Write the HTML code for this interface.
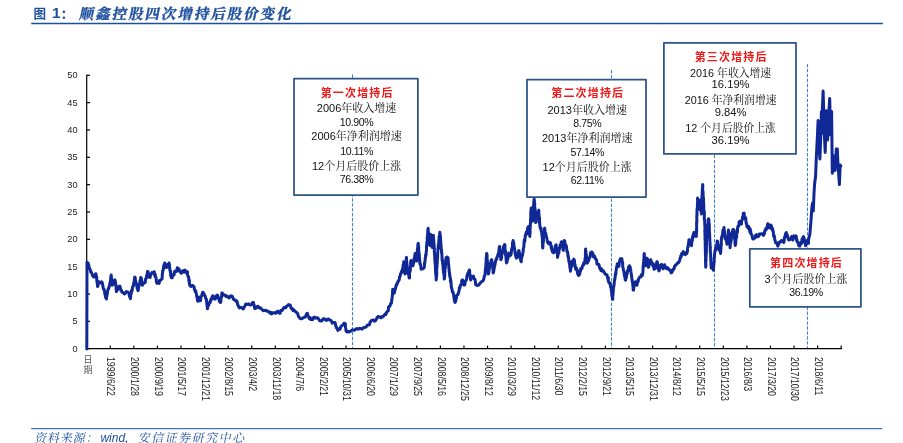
<!DOCTYPE html>
<html lang="zh"><head><meta charset="utf-8"><title>图 1</title>
<style>
html,body{margin:0;padding:0;background:#fff;}
body{width:903px;height:443px;position:relative;overflow:hidden;font-family:"Liberation Sans","Noto Sans CJK SC",sans-serif;}
.title{position:absolute;top:3.8px;height:20px;line-height:20px;white-space:nowrap;color:#1d4f9f;font-weight:bold;}
.t1{left:33.4px;font-size:12.6px;font-family:"Liberation Sans","Noto Sans CJK SC",sans-serif;}
.t2{left:52.1px;font-size:15.5px;font-family:"Liberation Sans",sans-serif;top:2.6px;}
.t3{left:60px;font-size:14.5px;font-family:"Liberation Sans","Noto Serif CJK SC",serif;}
.t4{left:79.0px;-webkit-text-stroke:0.35px #1d4f9f;font-size:14.5px;letter-spacing:1.95px;transform:skewX(-11deg);transform-origin:0 70%;font-family:"Liberation Sans","Noto Serif CJK SC",serif;}
.rule1{position:absolute;left:31px;top:22.8px;width:852px;height:1.2px;background:#1d4f9f;}
.rule2{position:absolute;left:31px;top:428px;width:851px;height:1.3px;background:#4a73b8;}
.src{position:absolute;left:35.3px;top:430.6px;height:14px;line-height:14px;white-space:nowrap;color:#1d4f9f;font-size:12px;font-family:"Liberation Sans","Noto Serif CJK SC",serif;}
.src span{display:inline-block;}
.src .s1{letter-spacing:0.9px;transform:skewX(-12deg);}
.src .s2{letter-spacing:1.5px;transform:skewX(-12deg);}
.src .w{letter-spacing:0;font-size:12px;font-style:italic;margin-left:0.6px;margin-right:0px;}
.ln{position:absolute;width:140px;height:14px;line-height:14px;text-align:center;white-space:nowrap;color:#111;font-size:11px;font-family:"Liberation Sans","Noto Serif CJK SC",serif;}
.ln.t{color:#f01818;font-weight:bold;font-size:11px;letter-spacing:1.15px;text-indent:1.15px;font-family:"Liberation Sans","Noto Sans CJK SC",sans-serif;}
.ln.n{font-size:10.6px;letter-spacing:-0.4px;}
.ln.b{font-size:10.8px;}
.ln.bn{font-size:11.2px;}
</style></head><body><div id="wrap" style="position:absolute;left:0;top:0;width:903px;height:443px;will-change:transform;">
<div class="title t1">图</div><div class="title t2">1</div><div class="title t3">：</div><div class="title t4">顺鑫控股四次增持后股价变化</div>
<svg width="903" height="443" viewBox="0 0 903 443" style="position:absolute;left:0;top:0">
<line x1="352.5" y1="74.5" x2="352.5" y2="348" stroke="#4681c9" stroke-width="1.1" stroke-dasharray="3.4 1.55" fill="none"/>
<line x1="611.5" y1="70" x2="611.5" y2="348" stroke="#4681c9" stroke-width="1.1" stroke-dasharray="3.4 1.55" fill="none"/>
<line x1="714.5" y1="150" x2="714.5" y2="348" stroke="#4681c9" stroke-width="1.1" stroke-dasharray="3.4 1.55" fill="none"/>
<line x1="807.5" y1="64" x2="807.5" y2="348" stroke="#4681c9" stroke-width="1.1" stroke-dasharray="3.4 1.55" fill="none"/>
<g stroke="#000" stroke-width="1.2" fill="none">
<line x1="86.7" y1="74.7" x2="86.7" y2="349.3"/>
<line x1="86.1" y1="348.7" x2="841.8" y2="348.7"/>
<line x1="86.7" y1="348.70" x2="90" y2="348.70"/>
<line x1="86.7" y1="321.36" x2="90" y2="321.36"/>
<line x1="86.7" y1="294.02" x2="90" y2="294.02"/>
<line x1="86.7" y1="266.68" x2="90" y2="266.68"/>
<line x1="86.7" y1="239.34" x2="90" y2="239.34"/>
<line x1="86.7" y1="212.00" x2="90" y2="212.00"/>
<line x1="86.7" y1="184.66" x2="90" y2="184.66"/>
<line x1="86.7" y1="157.32" x2="90" y2="157.32"/>
<line x1="86.7" y1="129.98" x2="90" y2="129.98"/>
<line x1="86.7" y1="102.64" x2="90" y2="102.64"/>
<line x1="86.7" y1="75.30" x2="90" y2="75.30"/>
<line x1="110.28" y1="348.7" x2="110.28" y2="345.6"/>
<line x1="133.86" y1="348.7" x2="133.86" y2="345.6"/>
<line x1="157.43" y1="348.7" x2="157.43" y2="345.6"/>
<line x1="181.01" y1="348.7" x2="181.01" y2="345.6"/>
<line x1="204.59" y1="348.7" x2="204.59" y2="345.6"/>
<line x1="228.17" y1="348.7" x2="228.17" y2="345.6"/>
<line x1="251.75" y1="348.7" x2="251.75" y2="345.6"/>
<line x1="275.32" y1="348.7" x2="275.32" y2="345.6"/>
<line x1="298.90" y1="348.7" x2="298.90" y2="345.6"/>
<line x1="322.48" y1="348.7" x2="322.48" y2="345.6"/>
<line x1="346.06" y1="348.7" x2="346.06" y2="345.6"/>
<line x1="369.64" y1="348.7" x2="369.64" y2="345.6"/>
<line x1="393.21" y1="348.7" x2="393.21" y2="345.6"/>
<line x1="416.79" y1="348.7" x2="416.79" y2="345.6"/>
<line x1="440.37" y1="348.7" x2="440.37" y2="345.6"/>
<line x1="463.95" y1="348.7" x2="463.95" y2="345.6"/>
<line x1="487.53" y1="348.7" x2="487.53" y2="345.6"/>
<line x1="511.10" y1="348.7" x2="511.10" y2="345.6"/>
<line x1="534.68" y1="348.7" x2="534.68" y2="345.6"/>
<line x1="558.26" y1="348.7" x2="558.26" y2="345.6"/>
<line x1="581.84" y1="348.7" x2="581.84" y2="345.6"/>
<line x1="605.42" y1="348.7" x2="605.42" y2="345.6"/>
<line x1="628.99" y1="348.7" x2="628.99" y2="345.6"/>
<line x1="652.57" y1="348.7" x2="652.57" y2="345.6"/>
<line x1="676.15" y1="348.7" x2="676.15" y2="345.6"/>
<line x1="699.73" y1="348.7" x2="699.73" y2="345.6"/>
<line x1="723.31" y1="348.7" x2="723.31" y2="345.6"/>
<line x1="746.88" y1="348.7" x2="746.88" y2="345.6"/>
<line x1="770.46" y1="348.7" x2="770.46" y2="345.6"/>
<line x1="794.04" y1="348.7" x2="794.04" y2="345.6"/>
<line x1="817.62" y1="348.7" x2="817.62" y2="345.6"/>
<line x1="841.20" y1="348.7" x2="841.20" y2="345.6"/>
</g>
<g font-family="'Liberation Sans', sans-serif" font-size="9.2px" fill="#1c1c1c" text-anchor="end">
<text x="77.6" y="351.60">0</text>
<text x="77.6" y="324.26">5</text>
<text x="77.6" y="296.92">10</text>
<text x="77.6" y="269.58">15</text>
<text x="77.6" y="242.24">20</text>
<text x="77.6" y="214.90">25</text>
<text x="77.6" y="187.56">30</text>
<text x="77.6" y="160.22">35</text>
<text x="77.6" y="132.88">40</text>
<text x="77.6" y="105.54">45</text>
<text x="77.6" y="78.20">50</text>
</g>
<g font-family="'Liberation Sans', sans-serif" font-size="10px" fill="#222">
<text transform="translate(107.48,356.9) rotate(90) scale(0.88,1)">1999/6/22</text>
<text transform="translate(131.06,356.9) rotate(90) scale(0.88,1)">2000/1/28</text>
<text transform="translate(154.63,356.9) rotate(90) scale(0.88,1)">2000/9/19</text>
<text transform="translate(178.21,356.9) rotate(90) scale(0.88,1)">2001/5/17</text>
<text transform="translate(201.79,356.9) rotate(90) scale(0.88,1)">2001/12/21</text>
<text transform="translate(225.37,356.9) rotate(90) scale(0.88,1)">2002/8/15</text>
<text transform="translate(248.95,356.9) rotate(90) scale(0.88,1)">2003/4/2</text>
<text transform="translate(272.52,356.9) rotate(90) scale(0.88,1)">2003/11/18</text>
<text transform="translate(296.10,356.9) rotate(90) scale(0.88,1)">2004/7/6</text>
<text transform="translate(319.68,356.9) rotate(90) scale(0.88,1)">2005/2/21</text>
<text transform="translate(343.26,356.9) rotate(90) scale(0.88,1)">2005/10/31</text>
<text transform="translate(366.84,356.9) rotate(90) scale(0.88,1)">2006/6/20</text>
<text transform="translate(390.41,356.9) rotate(90) scale(0.88,1)">2007/1/29</text>
<text transform="translate(413.99,356.9) rotate(90) scale(0.88,1)">2007/9/25</text>
<text transform="translate(437.57,356.9) rotate(90) scale(0.88,1)">2008/5/16</text>
<text transform="translate(461.15,356.9) rotate(90) scale(0.88,1)">2008/12/25</text>
<text transform="translate(484.73,356.9) rotate(90) scale(0.88,1)">2009/8/12</text>
<text transform="translate(508.30,356.9) rotate(90) scale(0.88,1)">2010/3/29</text>
<text transform="translate(531.88,356.9) rotate(90) scale(0.88,1)">2010/11/12</text>
<text transform="translate(555.46,356.9) rotate(90) scale(0.88,1)">2011/6/30</text>
<text transform="translate(579.04,356.9) rotate(90) scale(0.88,1)">2012/2/15</text>
<text transform="translate(602.62,356.9) rotate(90) scale(0.88,1)">2012/9/21</text>
<text transform="translate(626.19,356.9) rotate(90) scale(0.88,1)">2013/5/15</text>
<text transform="translate(649.77,356.9) rotate(90) scale(0.88,1)">2013/12/31</text>
<text transform="translate(673.35,356.9) rotate(90) scale(0.88,1)">2014/8/12</text>
<text transform="translate(696.93,356.9) rotate(90) scale(0.88,1)">2015/5/15</text>
<text transform="translate(720.51,356.9) rotate(90) scale(0.88,1)">2015/12/23</text>
<text transform="translate(744.08,356.9) rotate(90) scale(0.88,1)">2016/8/3</text>
<text transform="translate(767.66,356.9) rotate(90) scale(0.88,1)">2017/3/20</text>
<text transform="translate(791.24,356.9) rotate(90) scale(0.88,1)">2017/10/30</text>
<text transform="translate(814.82,356.9) rotate(90) scale(0.88,1)">2018/6/11</text>
</g>
<g font-family="'Liberation Sans', 'Noto Sans CJK SC', sans-serif" font-size="9px" fill="#555"><text x="83.6" y="363.4">日</text><text x="83.6" y="372.6">期</text></g>
<polyline points="86.8,348.9 87.0,262.2 88.1,262.9 88.4,265.7 88.7,264.6 89.1,267.6 89.2,267.6 89.6,268.3 90.0,269.2 90.3,269.7 90.8,272.3 91.4,272.2 91.8,273.3 92.5,274.9 92.9,276.4 94.2,277.1 94.7,276.9 95.2,275.9 95.6,273.7 95.9,273.7 96.3,276.5 96.5,277.1 96.7,277.1 96.8,280.8 96.9,281.5 97.0,280.6 97.3,284.0 97.5,285.0 97.4,284.4 97.6,286.6 97.9,286.0 98.2,282.7 98.6,283.8 99.0,281.8 100.3,282.5 101.7,281.8 102.0,284.1 102.3,282.8 102.7,284.9 103.0,286.6 103.3,288.5 103.6,289.3 103.9,289.0 104.1,290.0 104.6,291.6 104.8,294.0 105.1,294.7 105.6,297.3 106.1,298.5 106.4,298.8 106.5,298.9 106.8,295.9 107.0,294.4 107.1,294.8 107.3,294.0 107.6,290.7 107.8,290.6 108.3,288.4 108.6,288.8 109.1,286.6 109.4,286.3 110.0,282.4 110.5,282.5 110.5,280.4 110.7,279.0 110.7,279.9 110.8,276.4 111.1,277.8 111.2,275.1 111.4,276.9 111.4,278.6 111.5,278.3 111.8,281.1 112.0,280.7 112.0,283.3 112.0,282.7 112.2,285.2 112.8,283.4 113.6,283.9 114.0,283.9 114.6,280.1 114.9,279.8 115.2,282.3 115.4,281.2 115.5,283.9 115.7,284.4 115.9,284.9 116.1,288.3 116.3,289.7 116.3,291.5 116.6,291.3 117.1,289.6 117.7,289.7 118.2,287.9 118.9,286.3 119.6,286.6 120.0,286.4 120.8,290.1 121.3,290.0 122.0,292.2 122.8,292.3 123.3,292.7 124.4,293.9 125.4,293.3 126.3,291.5 127.4,292.0 128.2,292.2 129.0,293.3 129.3,295.9 129.7,297.1 130.1,297.0 130.4,298.8 130.7,296.7 130.6,297.8 130.8,294.8 131.0,293.0 131.0,294.2 131.4,293.1 131.5,290.6 132.1,290.7 132.5,287.3 133.1,285.7 133.5,285.9 133.6,283.4 134.0,282.4 134.1,281.3 134.2,282.2 134.4,278.9 134.7,277.3 134.9,277.1 135.1,277.3 135.3,278.1 135.5,281.5 135.9,283.0 135.9,281.4 136.2,283.9 136.4,284.1 136.7,285.2 137.2,288.5 137.4,287.0 137.8,290.1 138.0,290.6 138.3,290.2 138.3,289.7 138.6,286.6 138.8,286.9 139.1,285.5 139.3,283.9 139.7,283.7 140.1,280.6 140.3,281.2 140.7,277.5 141.2,277.8 141.6,279.8 141.6,279.5 142.0,282.9 142.1,283.6 142.2,285.2 142.6,285.2 143.2,282.9 143.9,283.2 145.3,282.5 145.4,280.6 145.6,278.9 146.1,278.6 146.3,278.5 146.3,278.4 146.6,275.7 147.2,273.9 147.5,271.5 148.0,271.7 148.3,272.3 148.6,275.5 148.9,276.8 149.3,277.1 150.1,277.5 150.6,274.8 151.1,274.4 151.9,272.6 152.9,273.0 153.6,273.0 154.2,271.7 154.6,274.2 154.8,275.9 155.2,274.2 155.6,277.1 155.9,277.4 156.1,278.2 156.4,281.7 156.9,283.3 157.2,283.2 158.6,283.2 159.2,283.4 159.5,280.4 160.2,280.5 161.0,279.9 161.9,278.4 162.1,278.8 162.3,275.6 162.2,274.1 162.4,274.4 162.7,271.9 162.6,270.7 162.9,270.3 163.2,270.2 163.4,268.7 163.8,265.3 164.1,266.8 164.4,264.8 164.7,262.9 165.1,263.5 165.4,266.6 165.7,264.9 166.0,267.6 167.4,266.9 167.8,264.4 168.1,264.3 168.6,265.5 169.1,262.9 169.3,265.3 169.3,264.3 169.6,265.2 169.6,266.6 169.8,269.9 170.1,270.3 170.4,272.3 170.7,271.5 170.6,275.5 171.0,276.6 171.1,276.0 171.4,277.8 172.2,277.8 172.6,275.0 173.5,274.4 174.0,275.0 174.7,271.3 175.5,271.7 176.4,271.6 177.3,267.8 178.2,268.3 179.0,271.0 179.4,269.7 180.2,271.7 181.2,273.3 182.3,271.7 183.0,270.6 184.0,272.2 185.0,270.0 186.0,272.4 187.0,271.7 187.5,271.8 187.5,274.5 188.0,276.5 188.4,276.4 188.6,276.7 188.7,277.6 188.9,281.5 189.4,280.2 189.4,283.4 189.8,285.5 190.0,285.2 190.0,284.9 191.1,286.6 192.0,285.6 192.9,285.5 194.1,286.9 194.4,289.2 194.8,290.2 195.3,291.8 195.7,290.6 196.1,293.0 196.2,293.1 196.7,296.2 197.0,297.4 197.1,297.1 197.4,299.5 197.5,300.8 197.9,301.2 198.3,300.7 198.6,297.4 199.2,297.1 199.6,299.1 200.1,300.7 200.6,300.5 200.8,298.2 201.1,297.0 201.7,295.6 201.9,295.1 202.6,292.4 203.1,292.3 203.7,294.3 204.1,293.8 204.6,295.7 205.2,296.0 205.7,298.5 206.3,299.1 206.5,299.8 206.6,302.3 206.9,303.8 206.9,303.4 207.1,306.3 207.4,305.5 207.4,308.7 207.6,308.6 207.8,306.8 208.4,305.0 208.7,305.5 209.0,303.9 209.6,302.1 210.3,302.5 210.6,300.3 211.0,299.2 211.2,300.0 211.7,297.8 212.5,296.1 213.0,295.7 213.4,296.1 213.9,297.6 214.4,299.1 215.1,299.1 216.0,297.8 216.6,295.5 217.4,295.1 217.8,295.7 218.2,297.8 218.7,298.4 219.1,299.9 219.5,301.7 220.1,300.5 220.5,302.5 220.6,302.4 220.9,301.2 221.0,298.1 221.3,297.1 221.6,297.1 221.8,294.1 221.9,292.9 222.2,293.0 222.9,294.5 223.9,295.1 224.9,294.9 225.9,296.4 227.0,296.0 227.9,297.1 229.1,297.9 230.0,296.4 231.0,295.7 232.3,296.4 232.9,297.8 233.6,299.4 234.0,299.1 235.0,300.4 236.3,300.5 236.7,302.1 237.3,301.9 237.7,304.7 238.1,305.2 238.8,307.0 239.4,307.9 240.6,307.2 241.5,307.9 242.4,307.8 243.1,309.0 243.7,308.4 244.1,307.3 244.9,305.9 245.7,304.1 246.9,304.5 248.4,303.7 249.6,304.9 250.6,305.1 251.6,303.9 252.6,302.6 253.4,302.5 253.7,305.0 254.0,304.5 254.4,307.2 254.8,308.5 255.0,308.6 256.0,308.1 257.0,306.6 258.1,306.2 259.1,307.9 260.4,307.7 261.8,309.3 263.2,310.7 264.5,310.6 265.8,310.2 267.2,311.3 268.0,311.3 269.0,311.7 269.9,313.1 270.9,312.4 271.7,314.0 272.7,312.8 274.0,312.7 275.6,313.3 276.8,311.6 277.8,311.3 278.5,312.8 279.4,313.3 280.1,313.3 280.7,310.5 281.4,310.6 282.1,310.6 282.7,309.4 283.5,307.9 284.4,307.3 285.5,307.9 286.5,306.2 287.5,305.9 288.5,304.6 289.6,304.9 290.3,305.2 290.8,307.0 291.3,308.6 292.3,308.5 292.9,310.6 293.9,309.9 295.0,311.3 296.1,311.8 297.0,313.3 297.5,313.3 298.0,314.9 298.6,316.7 299.3,317.2 300.0,318.4 301.3,318.8 302.7,318.2 304.2,317.2 305.4,317.1 306.1,315.0 306.9,313.5 307.4,313.3 307.8,315.5 308.2,316.2 308.8,317.1 309.4,318.7 310.2,317.7 310.8,319.5 312.5,319.8 313.1,318.0 313.8,317.3 314.6,317.1 315.6,318.3 316.5,317.8 317.6,317.8 318.7,319.1 319.7,320.7 321.0,320.9 321.7,321.0 322.4,319.9 323.3,318.7 324.5,318.7 325.5,320.1 326.6,320.4 327.8,319.1 328.6,319.1 329.8,320.1 330.7,320.3 331.6,321.4 332.2,323.2 333.5,322.4 334.9,322.5 335.2,322.8 335.7,326.1 336.1,326.0 336.3,327.9 337.1,328.1 337.9,330.4 339.0,329.1 340.0,329.3 340.7,327.0 341.4,326.0 342.0,325.5 342.9,325.1 344.0,323.2 345.4,323.9 345.4,325.6 345.5,327.4 345.6,328.0 345.8,328.5 345.9,329.3 346.1,331.3 347.1,332.0 348.1,331.3 349.4,331.9 350.8,331.0 352.2,329.9 353.5,330.0 354.4,330.3 355.5,329.3 356.9,328.5 358.2,329.3 359.6,328.3 361.0,328.6 362.1,329.1 363.0,327.7 363.9,327.8 365.0,327.2 366.1,327.0 367.0,325.5 368.0,324.9 369.1,324.9 369.5,324.8 370.1,322.0 370.4,321.8 371.3,320.6 372.5,320.1 373.6,320.1 374.5,321.2 375.6,320.7 376.5,319.1 377.2,317.3 377.7,316.9 378.3,316.4 379.4,317.2 380.2,317.1 381.1,317.8 381.9,316.4 383.1,316.7 384.0,315.5 385.0,314.1 386.0,314.4 386.5,312.6 387.2,311.4 387.8,311.0 388.3,310.8 388.5,307.6 388.9,306.5 389.4,306.3 390.0,306.2 390.5,303.8 391.0,303.5 391.3,303.3 391.6,302.2 391.7,300.2 392.1,298.1 392.3,296.3 392.3,294.9 392.5,295.3 392.5,294.1 392.6,291.1 392.6,291.3 392.7,289.2 393.1,289.9 393.5,291.4 394.1,293.2 394.5,292.8 394.8,290.0 395.2,289.0 395.4,289.1 395.8,286.1 396.2,286.1 396.8,283.7 397.1,284.4 397.8,281.8 398.2,281.0 398.7,280.9 399.3,279.2 399.6,276.7 400.2,276.0 400.5,274.0 401.1,273.0 401.4,271.6 401.8,272.5 402.3,269.9 402.5,269.3 402.5,268.9 402.9,267.7 403.2,265.9 403.1,264.8 403.6,264.5 403.7,261.7 403.7,264.3 404.1,265.5 404.2,266.2 404.2,266.0 404.2,267.0 404.5,267.5 404.5,271.0 404.8,270.6 404.8,273.7 404.9,273.9 405.0,271.2 405.1,270.3 405.3,269.2 405.2,268.3 405.4,266.4 405.4,265.1 405.7,263.8 405.7,262.5 406.0,263.4 406.1,259.8 406.0,260.8 406.4,258.4 406.3,257.7 406.5,257.4 406.5,261.4 406.7,260.7 406.8,263.4 407.1,264.7 407.1,266.8 407.3,268.2 407.2,266.6 407.6,268.4 407.7,269.3 407.8,271.9 407.9,273.8 408.5,273.5 408.7,275.1 409.2,278.0 409.4,278.0 409.6,277.9 409.5,276.6 409.6,272.8 409.9,272.4 410.1,270.8 410.0,269.4 410.3,270.9 410.4,267.1 410.4,267.6 410.7,264.7 410.5,262.8 410.7,262.3 410.9,260.4 411.0,260.7 411.5,262.7 411.9,264.5 412.6,265.8 413.0,265.8 413.3,263.7 413.6,262.0 413.6,263.4 413.8,260.0 414.1,259.0 414.4,257.5 414.4,258.7 414.8,255.4 414.8,255.6 415.1,253.6 415.4,254.2 415.5,257.4 415.7,258.3 415.9,258.9 416.3,260.9 416.5,260.7 416.7,261.0 416.8,256.9 416.8,258.1 416.9,254.1 417.1,256.0 417.2,254.9 417.3,250.7 417.4,249.2 417.5,248.6 417.7,247.8 417.9,245.6 417.8,244.7 418.1,246.0 418.1,243.4 418.3,243.3 418.5,247.1 418.4,245.4 418.6,247.0 418.7,248.9 418.8,250.5 419.0,253.7 419.0,254.3 419.2,256.6 419.4,254.4 419.3,258.2 419.5,257.2 419.7,261.3 419.8,260.3 419.8,263.6 419.9,263.8 420.3,263.6 420.7,265.5 421.2,269.2 421.6,268.8 422.9,268.8 424.0,267.8 424.2,267.5 424.4,266.4 424.5,262.7 424.6,264.3 424.8,262.9 425.0,261.5 425.2,258.2 425.4,258.5 425.6,254.8 425.8,256.1 426.0,255.4 426.2,252.6 426.5,250.0 426.5,251.0 426.5,247.4 426.5,246.4 426.7,244.8 426.9,244.1 426.8,244.9 426.9,242.0 427.2,243.1 427.3,241.6 427.2,238.3 427.2,237.3 427.3,238.4 427.6,236.8 427.6,233.4 427.8,232.0 427.9,233.0 427.8,229.6 428.1,230.8 428.1,228.2 428.2,230.6 428.2,232.0 428.5,233.9 428.5,232.1 428.8,235.1 428.6,233.9 428.7,238.2 428.9,238.8 429.2,240.7 429.3,242.0 429.4,240.9 429.4,244.4 429.6,242.5 429.7,245.5 429.9,242.5 429.8,244.7 430.0,243.1 430.0,241.3 430.3,238.1 430.4,236.8 430.5,235.1 430.5,236.8 430.7,234.3 431.0,236.9 430.9,235.5 431.1,237.2 431.2,237.7 431.2,238.8 431.4,240.6 431.7,243.3 431.8,242.7 432.0,244.1 431.9,244.8 432.1,247.5 432.4,247.5 432.2,246.8 432.4,243.3 432.6,241.5 432.8,239.5 433.0,239.2 432.9,240.2 433.2,236.7 433.3,237.8 433.4,235.3 433.5,238.5 433.4,238.8 433.7,240.9 433.7,238.7 433.9,243.0 433.9,241.9 433.9,242.6 434.0,244.5 434.2,245.4 434.1,247.1 434.4,248.4 434.3,251.5 434.4,253.4 434.5,252.2 434.6,255.5 434.8,255.6 434.7,258.1 434.8,259.2 434.9,260.8 435.1,262.1 435.0,262.9 435.1,262.2 435.3,265.1 435.5,266.8 435.6,266.1 435.4,269.3 435.5,270.4 435.6,269.4 435.6,270.9 435.7,273.8 436.0,274.9 435.8,274.4 435.9,274.8 436.1,277.1 436.2,279.8 436.2,280.0 436.3,277.4 436.2,276.3 436.5,277.4 436.6,275.7 436.7,275.4 436.8,271.9 436.7,271.9 436.6,268.7 436.7,269.4 437.0,266.1 437.0,267.6 437.0,264.1 437.1,264.6 437.3,261.7 437.4,260.4 437.4,259.5 437.5,257.3 437.6,256.3 437.6,258.1 437.6,257.0 437.7,252.9 437.8,251.8 437.8,251.6 438.0,248.9 438.0,248.0 438.1,249.0 438.3,248.1 438.3,244.6 438.5,246.1 438.8,241.7 438.9,240.6 438.9,239.8 439.0,240.7 439.1,236.4 439.2,238.3 439.5,236.7 439.6,236.4 439.8,232.3 439.9,232.3 439.9,234.4 440.1,235.7 440.2,234.4 440.2,235.8 440.5,237.0 440.4,241.6 440.7,239.9 440.6,241.2 440.8,242.4 440.9,243.9 441.2,248.1 441.1,248.4 441.3,249.7 441.5,249.5 441.5,251.6 441.7,253.5 441.9,253.2 441.9,254.8 442.1,258.2 442.0,257.1 442.1,260.4 442.5,260.1 442.4,260.7 442.7,264.0 442.9,264.0 442.9,265.8 443.1,266.2 443.2,269.3 443.2,268.5 443.3,270.1 443.6,272.9 443.7,272.4 443.7,273.1 444.0,274.8 444.2,277.2 444.2,279.0 444.3,279.0 444.6,276.8 444.4,277.3 444.7,276.5 444.8,275.4 444.7,271.9 444.9,272.2 445.0,269.3 445.0,268.1 445.2,266.9 445.4,267.9 445.5,263.7 445.5,263.4 445.6,264.3 445.6,260.2 445.9,259.1 445.8,259.6 446.0,257.7 447.0,257.0 448.0,257.7 448.1,259.5 448.2,259.1 448.4,263.0 448.4,263.5 448.6,265.4 448.6,263.9 448.9,267.5 448.9,268.7 449.0,268.0 449.2,271.8 449.5,272.1 449.5,273.8 449.6,273.9 449.7,276.7 449.9,275.2 450.1,276.7 450.4,278.1 450.4,281.6 450.8,280.2 451.0,282.1 451.1,283.1 451.3,286.9 451.5,287.6 451.6,288.1 451.9,288.5 452.3,291.7 452.8,292.5 453.1,292.0 453.3,293.3 453.7,295.3 453.9,297.1 454.2,298.4 454.2,299.8 454.6,300.7 454.8,302.3 455.1,302.4 455.3,302.1 455.8,300.6 455.9,297.4 456.4,298.7 456.5,296.3 457.0,294.8 457.5,294.9 458.2,294.2 458.5,292.2 458.8,291.8 459.1,290.7 459.4,287.7 459.9,288.4 460.4,284.9 460.6,285.1 461.1,284.7 461.5,283.7 461.7,280.6 462.2,280.0 462.7,279.9 463.2,281.4 463.9,285.1 464.2,285.1 464.8,284.9 465.2,281.6 465.8,280.8 466.3,280.0 466.8,278.0 466.8,276.4 467.3,275.6 467.6,273.8 468.0,273.0 468.3,272.9 468.7,271.2 469.1,272.4 469.3,269.9 469.5,270.0 469.7,271.7 469.7,273.2 470.1,276.3 470.3,275.0 470.3,278.1 470.5,279.4 470.7,280.0 471.5,277.6 472.0,277.1 472.6,277.5 473.4,276.0 473.9,278.2 474.1,278.8 474.7,278.9 475.1,279.7 475.4,282.4 475.6,284.3 476.2,285.1 476.6,285.1 477.7,285.5 478.7,284.9 479.6,284.1 480.6,282.4 481.8,281.6 482.7,281.0 483.0,280.9 483.7,279.4 484.3,276.4 484.6,275.3 485.1,274.9 485.1,274.4 485.2,271.6 485.3,270.6 485.5,268.8 485.5,268.0 485.8,268.3 485.8,265.3 485.9,264.1 486.1,262.0 486.0,263.6 486.2,260.1 486.1,258.3 486.3,257.4 486.5,257.9 486.5,255.2 486.7,253.5 486.7,253.6 486.9,253.9 487.1,255.5 487.1,258.2 487.0,257.9 487.2,260.8 487.5,262.7 487.3,260.9 487.6,265.1 487.5,266.6 487.8,267.1 487.7,269.1 488.1,269.5 487.9,268.8 488.1,270.2 488.3,273.3 488.4,273.9 488.7,273.8 488.8,270.2 488.9,271.7 488.9,270.4 489.4,269.1 489.5,264.7 489.5,263.6 489.8,263.8 490.2,264.2 490.8,263.4 491.2,259.9 491.8,259.7 491.9,262.0 492.1,263.2 492.2,262.3 492.2,263.4 492.4,266.4 492.5,265.8 492.7,267.4 492.8,268.6 493.0,269.2 493.0,272.5 493.2,272.9 493.5,272.3 493.8,271.0 494.1,268.2 494.1,269.2 494.5,265.4 494.6,266.8 495.0,264.5 495.3,262.7 495.6,261.0 496.0,259.8 496.4,258.5 496.8,259.0 497.3,256.4 497.6,256.4 497.9,254.6 498.1,254.1 498.5,253.5 498.7,251.7 499.0,251.3 498.9,250.2 499.3,247.1 499.5,246.5 499.6,246.7 499.9,248.2 499.9,251.6 500.0,249.9 500.2,251.5 500.2,255.3 500.5,254.3 500.7,257.8 500.8,258.3 500.9,259.8 501.0,259.7 501.1,257.0 501.5,258.4 501.8,254.2 502.0,253.0 502.3,253.9 502.7,250.7 503.0,250.6 503.2,250.0 503.5,246.4 504.0,247.5 504.3,247.0 504.6,244.5 504.7,246.9 505.0,245.1 504.9,246.5 505.1,250.7 505.3,252.3 505.4,250.8 505.5,251.4 505.6,255.6 506.0,256.7 506.0,257.8 506.0,258.7 506.1,257.9 506.3,261.6 506.4,262.9 506.6,262.7 507.0,262.4 507.4,259.0 507.6,257.8 507.9,258.9 508.3,255.7 508.5,254.8 508.7,253.0 509.1,253.6 510.0,255.6 511.1,254.6 511.2,252.3 511.5,251.5 511.5,249.6 512.0,248.3 512.2,246.9 512.3,247.6 512.5,247.2 512.5,242.6 512.8,244.2 512.8,243.2 513.1,240.4 513.4,242.4 513.7,242.3 513.7,243.3 514.1,246.1 514.0,247.5 514.3,247.4 514.5,248.0 514.8,250.6 515.1,253.4 515.5,254.1 515.6,255.8 516.1,257.1 516.5,258.1 516.8,257.7 517.2,255.9 517.6,256.9 517.9,255.1 518.2,251.9 518.5,253.4 518.8,250.6 519.2,251.0 519.4,254.0 519.6,255.2 519.8,256.5 520.2,258.4 520.3,256.6 520.7,260.1 521.0,261.4 521.3,261.7 521.3,258.8 521.7,257.7 521.8,257.2 522.1,255.3 522.3,254.8 522.4,255.7 522.6,255.0 522.7,252.7 523.0,252.6 523.2,251.4 523.3,248.5 523.4,248.1 523.6,247.2 523.9,246.7 524.0,242.7 524.1,243.2 524.3,240.0 524.5,242.0 524.9,240.5 524.9,238.7 525.2,237.9 525.3,235.3 525.7,235.2 526.3,232.1 526.9,234.1 527.4,231.3 527.5,229.1 527.8,227.4 528.1,229.4 528.5,226.6 528.8,229.3 528.8,231.1 528.9,232.3 529.3,233.0 529.5,233.9 529.6,233.7 529.8,235.7 529.8,236.4 529.7,235.0 530.1,233.4 530.1,229.5 529.9,230.3 530.2,227.4 530.2,225.8 530.3,227.1 530.4,222.9 530.4,224.2 530.5,223.8 530.5,222.4 530.6,221.0 530.5,219.1 530.8,217.8 530.8,216.6 530.7,216.3 530.8,211.6 530.9,210.5 531.2,212.6 531.1,208.0 531.2,208.3 531.4,208.1 531.4,209.1 531.5,213.3 531.8,212.3 532.0,212.5 532.0,216.3 532.1,218.8 532.2,217.3 532.4,220.3 532.6,220.5 532.7,221.0 532.8,219.9 533.0,215.3 532.9,217.6 533.0,215.3 533.1,215.0 533.3,213.4 533.2,211.4 533.5,207.2 533.7,206.0 533.5,205.3 533.8,207.2 533.7,201.9 534.0,203.8 534.0,199.7 534.1,201.2 534.2,199.1 534.5,202.5 534.3,200.0 534.5,202.1 534.6,202.4 534.8,204.5 534.6,204.4 534.8,210.0 535.0,208.0 535.0,208.5 535.2,209.9 535.1,211.5 535.2,212.1 535.3,214.4 535.3,215.4 535.5,218.6 535.6,217.2 535.8,221.7 535.7,222.5 535.8,222.5 535.9,222.4 536.3,221.9 536.4,217.7 536.6,219.1 536.8,214.2 537.0,212.9 537.1,212.3 537.3,212.3 537.9,212.9 538.7,210.3 538.8,210.2 538.9,214.3 539.0,215.1 539.0,216.6 539.3,218.2 539.4,218.7 539.5,217.2 539.5,222.5 539.6,223.2 539.6,220.9 539.8,225.7 539.9,225.6 540.2,227.7 540.7,228.8 540.9,228.0 541.2,231.1 541.6,232.6 541.9,232.7 541.9,235.2 542.1,236.2 542.1,235.3 542.1,236.1 542.3,237.9 542.4,238.9 542.4,242.5 542.4,241.5 542.6,243.1 542.5,246.3 542.7,247.3 542.8,247.9 542.8,245.8 542.9,246.7 543.0,242.5 543.1,241.2 543.3,242.6 543.4,241.2 543.4,237.1 543.5,238.3 543.7,235.6 543.8,236.4 544.0,233.0 544.0,234.1 544.0,232.0 544.3,231.2 544.4,228.6 544.7,228.2 545.1,232.3 545.3,233.5 545.5,234.0 545.7,233.0 546.2,236.3 546.4,236.7 546.9,238.6 547.1,240.3 547.5,242.0 548.1,243.1 548.4,241.7 548.9,243.8 549.7,242.5 550.5,242.8 550.7,244.8 551.1,246.7 551.3,248.2 551.7,246.4 551.8,250.3 552.2,249.4 552.5,252.0 553.6,252.8 554.5,251.0 555.0,248.7 555.3,247.4 555.4,245.8 555.9,245.0 556.2,244.9 556.2,246.7 556.5,248.2 556.7,249.6 556.6,248.0 556.8,252.6 556.9,250.5 557.3,254.2 557.4,253.4 557.5,257.4 557.6,257.0 558.0,255.2 558.2,253.5 558.6,252.0 558.8,253.2 558.9,252.7 559.2,248.3 559.6,248.9 559.9,246.1 560.4,244.8 560.6,244.4 561.1,243.4 561.2,241.9 561.6,241.8 561.8,243.7 562.0,243.3 562.3,244.2 562.4,245.8 562.8,245.8 562.8,247.8 563.1,249.9 563.4,250.3 563.6,246.1 563.8,245.2 563.9,243.4 564.2,241.5 564.3,240.6 564.7,240.8 565.0,243.0 565.2,244.7 565.6,245.9 565.9,246.1 566.1,245.3 566.5,247.1 566.7,248.9 566.9,251.6 567.3,252.1 567.5,251.7 567.8,253.0 567.9,256.2 568.1,254.9 568.5,258.7 568.8,259.1 568.8,261.4 569.0,260.4 569.3,261.9 569.5,262.4 569.4,263.6 569.8,265.3 569.8,266.3 570.0,268.2 570.3,269.1 570.4,271.3 570.8,269.2 570.8,267.5 571.2,266.3 571.3,264.7 571.5,266.6 571.9,262.2 572.1,263.6 572.4,261.1 573.1,261.8 573.8,259.1 574.1,260.8 574.3,260.0 574.5,261.1 574.6,263.0 574.7,266.2 575.1,264.6 575.3,267.2 575.7,269.3 576.3,267.9 576.7,268.8 577.3,271.3 577.6,273.7 578.2,274.4 578.6,275.5 578.9,275.3 579.3,273.4 579.7,274.5 580.0,270.8 580.3,271.9 580.7,268.8 581.0,268.2 581.9,268.6 582.6,265.5 583.4,265.2 583.8,262.6 584.3,262.2 584.6,263.6 585.0,261.1 585.1,259.1 585.3,260.0 585.0,259.0 585.4,257.5 585.4,256.1 585.4,254.5 585.5,251.6 585.4,250.4 585.7,250.9 585.6,248.9 585.8,251.6 585.9,250.7 585.9,254.4 586.0,255.0 586.4,254.6 586.3,257.6 586.7,256.4 586.5,260.4 586.7,259.9 587.0,263.2 587.0,263.1 587.6,262.5 587.9,261.9 588.7,260.4 589.1,258.1 589.6,257.8 590.1,257.3 590.5,252.7 590.9,254.6 591.5,252.0 592.0,252.0 592.6,253.1 593.0,254.1 593.5,257.0 594.7,256.4 595.6,259.1 596.2,259.6 596.5,259.9 597.0,264.1 597.6,264.2 598.4,264.2 599.0,264.7 599.7,268.3 600.3,268.2 600.9,270.5 601.6,268.8 602.3,271.3 603.3,270.9 604.4,272.6 605.3,274.3 606.2,274.5 607.0,274.8 607.7,278.4 608.4,277.8 608.2,280.4 608.1,280.0 608.8,282.4 609.5,283.5 610.2,283.1 610.3,285.0 610.5,286.1 610.7,287.5 610.9,286.5 611.2,288.1 611.3,291.2 611.6,291.2 611.7,293.5 611.8,294.8 611.9,295.8 612.3,296.6 612.4,298.3 612.5,297.0 612.6,299.3 612.8,299.2 612.7,297.3 612.9,294.3 613.0,295.0 613.1,293.6 613.3,290.6 613.3,290.8 613.4,287.6 613.6,286.4 613.7,287.2 613.8,285.1 614.1,285.1 614.3,281.9 614.5,280.2 614.7,278.6 614.7,280.0 615.0,278.4 615.2,276.0 615.5,273.4 615.8,274.7 615.9,272.9 616.1,270.2 616.4,269.2 616.5,268.1 616.7,266.4 616.9,267.4 617.2,264.4 617.3,263.8 617.9,263.7 618.7,265.8 619.0,266.3 619.3,262.7 619.6,261.4 619.7,260.3 619.9,260.9 620.3,258.7 621.9,258.7 622.1,261.3 622.4,262.2 622.5,263.2 622.7,262.2 622.7,266.2 622.9,267.3 623.1,268.1 623.1,267.7 623.4,269.9 623.7,270.6 623.8,271.4 624.0,272.3 624.5,276.2 624.5,275.7 624.9,276.1 625.2,279.8 625.4,280.0 625.6,280.2 626.0,276.1 626.4,277.6 626.5,276.1 627.0,272.6 627.3,273.8 627.4,270.9 628.0,270.6 628.5,266.9 628.9,268.2 629.5,265.8 629.9,268.3 630.2,266.9 630.4,270.8 630.7,269.3 630.9,271.9 631.0,272.5 631.4,274.9 631.4,274.7 631.6,275.6 631.9,279.2 632.0,279.0 632.2,281.6 632.5,282.0 632.6,281.8 632.8,285.6 632.8,284.2 633.1,285.5 633.1,288.9 633.2,290.1 633.5,290.2 633.8,287.8 634.0,287.0 634.2,285.6 634.5,284.8 634.4,283.1 634.9,282.3 634.9,282.0 635.5,281.8 636.2,284.8 637.0,285.1 637.4,282.9 637.7,282.0 637.9,280.3 638.1,281.7 638.6,279.0 639.7,276.9 640.6,277.0 641.4,274.7 642.0,275.9 642.7,273.9 642.9,272.1 642.9,272.1 643.1,268.8 643.0,267.7 643.1,267.0 643.2,265.7 643.3,266.4 643.3,265.2 643.6,261.9 643.7,260.1 643.8,261.6 644.0,257.0 644.1,255.8 644.0,254.8 644.1,256.4 644.3,253.6 644.5,255.9 644.7,257.6 644.6,256.3 645.0,259.2 645.1,261.1 645.1,261.8 645.2,263.3 645.4,265.0 645.7,263.0 645.7,265.8 646.0,264.0 646.1,264.4 646.6,261.1 646.5,260.3 646.9,258.2 647.1,258.7 647.3,258.5 647.6,259.6 647.7,260.5 648.0,264.6 648.2,265.9 648.4,267.3 648.8,266.8 649.1,264.4 649.5,263.2 649.6,264.1 650.0,260.9 650.3,260.2 650.8,259.7 651.2,262.2 651.6,263.8 652.0,262.5 652.5,263.5 652.8,265.8 653.5,265.3 654.0,269.3 654.9,268.8 655.1,267.0 655.5,267.8 655.7,263.8 656.3,263.4 656.5,264.2 656.9,261.7 657.3,261.9 657.5,263.4 657.7,265.1 657.9,268.4 658.4,269.2 658.7,268.6 658.9,270.9 659.3,270.6 659.9,266.9 660.1,266.4 660.5,265.2 661.0,264.8 661.6,264.4 662.0,265.6 662.5,267.3 663.0,268.8 663.2,268.6 663.7,267.9 664.1,266.4 664.6,264.8 665.2,267.4 665.5,267.8 666.1,267.0 666.6,268.8 667.9,267.8 669.1,269.9 669.8,269.8 670.5,270.8 671.1,272.9 671.9,272.5 672.2,270.1 672.8,270.6 673.5,268.8 674.2,268.9 674.5,266.2 675.0,266.4 675.6,264.8 676.7,264.4 677.6,262.7 678.5,262.8 679.6,260.7 680.1,258.2 680.4,257.0 680.6,256.0 680.9,257.3 681.4,255.5 681.7,253.6 682.6,254.1 683.3,251.6 684.0,254.0 684.6,253.0 685.3,254.6 686.1,252.5 686.6,253.7 687.4,251.6 687.5,249.4 687.7,247.3 688.0,247.3 688.0,246.0 688.2,246.8 688.4,243.3 688.6,244.8 688.9,239.8 689.0,240.4 689.5,240.5 690.2,241.6 690.6,242.5 691.3,245.5 691.5,245.6 691.7,243.7 691.9,240.7 692.1,238.5 692.3,240.9 692.5,236.7 692.8,238.3 693.1,235.3 694.0,232.4 694.7,233.0 695.3,236.1 695.9,234.6 696.3,236.4 696.4,233.3 696.5,233.0 696.4,231.5 696.5,233.2 696.5,229.0 696.7,230.9 696.6,226.5 696.5,228.0 696.6,226.9 696.6,225.7 696.7,221.3 696.6,223.4 696.9,221.5 696.8,217.8 696.8,215.7 696.9,215.2 696.9,213.4 697.0,215.4 697.0,213.8 697.0,209.6 697.2,208.4 697.2,207.8 697.2,209.6 697.4,207.9 697.4,203.7 697.5,205.5 697.5,205.1 697.6,199.9 697.6,199.2 697.4,200.3 697.6,198.1 697.9,201.4 697.8,199.5 698.1,203.7 698.4,201.1 698.3,202.5 698.8,204.6 698.7,206.1 698.9,205.9 699.2,209.3 699.3,208.8 699.5,208.1 699.8,206.7 699.7,205.1 699.9,201.1 700.2,202.9 700.3,200.3 700.6,199.9 700.6,200.9 700.7,205.3 700.6,204.1 700.9,207.3 700.9,205.8 701.0,210.9 701.1,208.2 701.1,212.3 701.4,211.8 701.4,213.9 701.5,210.8 701.4,213.1 701.5,209.0 701.8,210.4 701.8,205.2 701.6,207.1 701.9,206.9 701.8,205.0 701.9,203.2 701.9,199.9 702.1,198.9 701.9,197.1 702.1,195.3 702.1,197.9 702.1,196.7 702.2,191.7 702.3,191.0 702.4,189.4 702.3,191.7 702.5,190.4 702.4,188.9 702.7,186.7 702.6,184.5 702.8,185.0 702.8,186.2 702.7,187.1 702.7,191.1 703.0,192.8 703.1,191.4 703.1,191.8 703.1,195.7 703.1,196.9 703.2,199.1 703.4,197.0 703.5,198.6 703.6,202.5 703.5,204.2 703.5,201.7 703.7,204.8 703.8,204.0 703.7,209.3 704.0,210.6 704.1,211.1 704.1,212.9 704.2,210.5 704.3,214.4 704.4,213.0 704.3,217.3 704.3,219.6 704.4,220.0 704.6,219.4 704.7,219.5 704.8,220.5 704.7,222.1 704.8,225.1 705.0,227.6 704.9,226.7 705.0,227.8 704.8,232.1 705.1,229.7 705.0,234.7 705.1,235.7 705.0,233.7 705.0,235.8 705.0,236.0 705.0,239.7 705.1,239.5 705.2,242.6 705.3,243.8 705.2,245.1 705.2,246.9 705.4,245.3 705.3,246.7 705.3,248.4 705.4,252.2 705.4,250.3 705.4,254.3 705.3,253.2 705.6,257.1 705.6,257.4 705.7,257.3 705.6,260.0 705.5,258.9 705.6,263.6 705.7,262.0 705.6,263.1 705.7,267.3 705.7,266.9 705.9,265.0 705.8,262.9 705.7,262.4 706.0,260.8 706.0,260.0 706.0,258.5 706.0,259.5 706.1,255.9 706.2,254.3 706.1,253.1 706.3,254.2 706.4,250.8 706.4,249.1 706.4,248.1 706.5,247.5 706.3,246.0 706.6,244.2 706.5,245.4 706.5,241.6 706.5,240.3 706.6,242.0 706.6,240.6 706.7,237.7 706.7,236.0 706.9,237.8 706.8,236.1 706.9,232.3 706.9,231.4 706.9,233.1 707.0,231.5 707.0,230.2 707.1,227.4 707.5,225.4 707.7,225.9 708.0,225.5 708.3,220.7 708.5,218.8 708.9,219.5 708.9,222.4 709.1,223.6 709.0,225.2 709.1,226.2 709.3,224.0 709.3,225.7 709.3,229.8 709.4,228.6 709.4,232.5 709.5,233.3 709.6,234.2 709.7,233.8 709.6,235.2 709.8,238.2 709.8,238.7 709.8,239.2 709.8,240.4 709.9,241.2 710.0,241.8 710.0,243.2 710.1,245.4 710.2,248.4 710.4,247.1 710.2,249.0 710.4,250.3 710.3,251.5 710.4,252.6 710.7,253.6 710.6,256.7 710.8,257.8 710.8,257.5 710.8,260.8 710.9,261.9 710.9,260.5 711.0,262.1 711.0,265.7 711.2,264.1 711.2,265.7 711.2,268.0 711.8,267.5 712.6,268.1 713.4,270.3 713.6,267.9 713.6,268.7 713.6,265.7 713.7,267.0 713.9,262.5 713.9,264.2 714.1,262.4 714.2,262.1 714.2,258.1 714.3,257.3 714.3,256.7 714.5,257.1 714.5,255.6 714.8,252.2 715.1,250.3 715.3,251.0 715.5,249.7 715.7,247.7 716.0,247.4 716.1,247.1 716.5,245.9 716.8,244.4 717.0,243.6 717.2,240.9 717.6,241.6 717.8,244.2 718.0,243.8 718.2,245.2 718.3,248.6 718.6,247.9 718.8,250.0 719.4,249.6 720.1,250.5 720.6,253.4 720.8,250.8 720.7,251.9 721.0,248.6 720.8,249.4 721.1,245.6 721.1,244.7 721.2,245.7 721.3,245.3 721.3,243.4 721.3,239.4 721.5,238.7 721.7,237.0 721.6,238.9 721.8,236.4 722.1,235.9 722.5,234.7 722.6,233.7 723.0,230.0 723.4,231.1 723.6,230.4 724.0,227.4 724.1,229.5 724.4,231.3 724.5,232.5 724.6,231.1 724.7,232.6 724.8,235.9 724.8,235.0 725.0,236.6 725.1,238.7 725.4,238.2 726.0,239.4 726.3,240.6 726.7,242.3 727.0,244.3 727.0,241.2 727.2,240.6 727.3,240.0 727.4,237.6 727.6,236.3 727.8,238.5 728.1,235.0 728.2,235.2 728.2,234.6 728.5,230.1 728.5,230.8 728.7,233.5 728.7,232.1 729.0,233.3 728.9,237.0 729.1,236.0 729.2,237.2 729.3,237.9 729.4,238.9 729.6,240.8 729.6,241.1 729.8,242.4 730.0,246.3 730.1,244.7 730.1,247.7 730.3,245.3 730.3,243.9 730.6,243.1 730.6,241.8 730.9,242.3 730.9,241.3 731.3,240.3 731.3,236.4 731.5,235.3 731.7,233.8 731.7,235.6 731.9,233.0 732.6,230.6 733.0,229.5 733.7,229.7 733.9,229.7 734.0,231.1 734.0,231.8 734.3,235.2 734.3,236.8 734.4,237.9 734.5,238.9 734.8,238.1 734.9,239.5 735.0,242.7 735.0,244.4 735.3,242.4 735.3,245.5 735.3,245.0 735.7,243.7 735.9,240.4 736.0,238.8 736.0,238.5 736.4,237.1 736.5,237.8 736.7,236.7 736.7,232.3 736.9,233.0 737.1,231.0 737.4,232.4 737.6,227.7 737.9,227.2 738.0,226.2 738.3,226.3 738.7,226.1 738.9,225.1 739.1,221.8 739.8,221.4 740.6,224.1 741.4,224.0 741.7,221.2 741.9,220.1 742.2,219.5 742.6,217.1 742.7,219.1 743.0,217.9 743.4,213.2 743.7,213.9 744.2,213.2 744.4,217.5 744.9,219.0 745.5,218.4 745.7,217.6 746.1,222.6 746.3,223.8 746.8,224.3 746.9,226.8 747.3,226.3 748.1,228.3 748.7,226.5 749.5,228.5 749.7,231.6 750.3,228.9 750.4,232.9 750.7,231.1 751.1,234.2 751.4,234.2 752.0,235.4 752.2,236.4 752.7,238.7 753.3,239.1 754.1,238.2 754.9,238.1 755.6,235.3 756.5,234.6 757.5,236.8 758.6,236.4 759.3,234.1 760.1,234.0 760.8,234.2 762.1,233.7 763.5,235.3 764.0,233.3 764.4,233.8 764.8,230.6 765.3,230.8 765.9,228.4 766.0,229.2 766.4,229.4 766.9,227.3 767.2,226.7 767.6,224.0 767.9,223.7 768.4,225.7 768.6,227.0 769.2,228.0 769.6,227.8 770.5,225.0 771.3,225.7 771.7,227.7 772.0,229.6 772.3,227.9 772.7,229.4 772.9,231.2 773.2,231.2 773.5,234.4 773.7,236.5 774.0,236.4 774.3,235.9 774.6,237.9 775.0,240.4 775.2,241.1 775.7,242.9 776.1,243.0 776.4,243.3 777.1,243.7 777.8,246.1 778.0,245.9 778.6,242.6 778.9,243.9 779.4,242.0 780.5,242.1 781.4,240.6 782.3,240.7 783.4,242.0 783.8,242.4 784.2,241.1 784.3,238.1 784.8,236.7 785.1,236.6 785.6,233.6 786.0,234.9 786.4,232.5 786.6,235.5 787.2,236.2 787.5,235.1 787.8,237.9 788.7,240.0 789.5,239.3 790.4,239.5 791.3,237.2 791.9,236.4 792.4,238.4 792.9,240.0 793.6,237.9 794.1,235.9 794.6,236.6 795.9,235.9 796.3,236.5 796.5,239.0 796.8,240.9 797.0,239.8 797.3,242.0 797.7,242.3 798.2,243.4 798.5,244.3 799.0,246.1 799.8,246.1 800.5,242.5 801.1,243.3 801.6,243.4 802.0,239.0 802.4,239.3 803.1,236.9 803.5,236.6 803.9,239.4 804.2,238.2 804.5,242.3 804.8,242.0 805.1,241.3 805.6,245.8 805.8,245.4 806.1,243.4 806.4,242.1 806.8,243.0 807.1,240.6 807.9,242.6 808.5,243.3 808.4,243.3 808.5,242.7 808.5,240.0 809.9,234.0 811.0,220.6 811.9,207.0 812.6,203.0 813.3,211.0 814.0,193.5 814.6,184.0 815.6,176.0 816.2,160.0 816.8,148.0 817.4,136.0 818.1,120.5 819.0,145.0 819.9,159.0 821.0,130.0 821.4,111.8 822.0,133.0 822.4,108.0 823.1,91.0 823.7,110.0 824.3,133.0 825.2,152.4 825.8,130.0 826.5,110.7 827.6,140.0 828.8,112.0 829.7,98.5 830.6,135.0 831.6,111.6 832.3,173.3 833.6,155.7 835.1,170.5 836.3,149.0 837.3,149.0 837.9,162.6 839.4,184.6 840.2,164.9 840.8,166.0" fill="none" stroke="#0f2895" stroke-width="3.0" stroke-linejoin="round" stroke-linecap="round"/>
<rect x="294.0" y="78.7" width="123.9" height="116.3" fill="#fff" stroke="#2c5489" stroke-width="1.75" stroke-linejoin="round"/>
<rect x="527.0" y="79.6" width="119.0" height="117.4" fill="#fff" stroke="#2c5489" stroke-width="1.75" stroke-linejoin="round"/>
<rect x="663.9" y="42.9" width="132.1" height="111.0" fill="#fff" stroke="#2c5489" stroke-width="1.75" stroke-linejoin="round"/>
<rect x="749.8" y="248.8" width="111.1" height="58.0" fill="#fff" stroke="#2c5489" stroke-width="1.75" stroke-linejoin="round"/>
<line x1="31.2" y1="23.5" x2="882.9" y2="23.5" stroke="#1d4f9f" stroke-width="1.3"/>
<line x1="31.2" y1="428.6" x2="882.2" y2="428.6" stroke="#4470b5" stroke-width="1.4"/>
</svg>
<div class="ln t" style="left:286.6px;top:85.5px">第一次增持后</div>
<div class="ln a" style="left:286.6px;top:101.4px">2006年收入增速</div>
<div class="ln n" style="left:286.6px;top:115.2px">10.90%</div>
<div class="ln a" style="left:286.6px;top:129.2px">2006年净利润增速</div>
<div class="ln n" style="left:286.6px;top:144.1px">10.11%</div>
<div class="ln a" style="left:286.6px;top:158.6px">12个月后股价上涨</div>
<div class="ln n" style="left:286.6px;top:172.1px">76.38%</div>
<div class="ln t" style="left:517.2px;top:86.4px">第二次增持后</div>
<div class="ln a" style="left:517.2px;top:102.7px">2013年收入增速</div>
<div class="ln n" style="left:517.2px;top:116.0px">8.75%</div>
<div class="ln a" style="left:517.2px;top:130.8px">2013年净利润增速</div>
<div class="ln n" style="left:517.2px;top:145.1px">57.14%</div>
<div class="ln a" style="left:517.2px;top:159.6px">12个月后股价上涨</div>
<div class="ln n" style="left:517.2px;top:173.0px">62.11%</div>
<div class="ln t" style="left:660.6px;top:50.4px">第三次增持后</div>
<div class="ln b" style="left:660.6px;top:65.5px">2016 年收入增速</div>
<div class="ln bn" style="left:660.6px;top:77.1px">16.19%</div>
<div class="ln b" style="left:660.6px;top:92.8px">2016 年净利润增速</div>
<div class="ln bn" style="left:660.6px;top:105.0px">9.84%</div>
<div class="ln b" style="left:660.6px;top:121.0px">12 个月后股价上涨</div>
<div class="ln bn" style="left:660.6px;top:132.8px">36.19%</div>
<div class="ln t" style="left:736.0px;top:255.5px">第四次增持后</div>
<div class="ln a" style="left:736.0px;top:271.6px">3个月后股价上涨</div>
<div class="ln n" style="left:736.0px;top:285.3px">36.19%</div>
<div class="src"><span class="s1">资料来源：</span><span class="w">wind</span><span class="s2">，安信证券研究中心</span></div>
</div></body></html>
